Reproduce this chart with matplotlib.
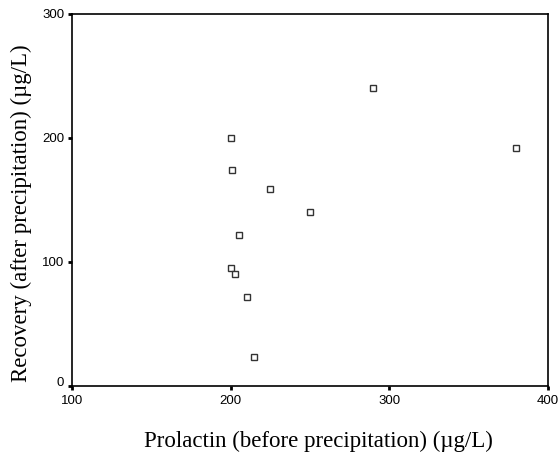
import matplotlib
matplotlib.use("Agg")
import matplotlib.pyplot as plt
from matplotlib.transforms import ScaledTranslation

prolactin_before = [200, 201, 225, 205, 200, 203, 210, 215, 290, 380, 250]
recovery_after = [200, 174, 159, 122, 95, 90, 72, 23, 240, 192, 140]
x_ticks = [100, 200, 300, 400]
y_ticks = [0, 100, 200, 300]

fig = plt.figure(figsize=(5.6, 4.54), dpi=100)
ax = fig.add_axes([72/560, 1 - 386/454, (548-72)/560, (386-14)/454])

ax.plot(prolactin_before, recovery_after, linestyle='none', marker='s',
        markersize=5, markerfacecolor='white', markeredgecolor='#333333',
        markeredgewidth=1.0)

ax.set_xlim(100, 400)
ax.set_ylim(0, 300)
ax.set_xticks(x_ticks)
ax.set_yticks(y_ticks)
ax.tick_params(direction='out', length=3, width=2, labelsize=9.5)
ax.tick_params(axis='x', pad=3.5)
ax.tick_params(axis='y', pad=2.5)
for lab in ax.get_xticklabels() + ax.get_yticklabels():
    lab.set_fontfamily('Liberation Sans')
for s in ax.spines.values():
    s.set_linewidth(1.2)

# the "0" label sits slightly above its tick in the reference
zero_lab = ax.yaxis.get_major_ticks()[0].label1
zero_lab.set_transform(zero_lab.get_transform() + ScaledTranslation(0, 5/100, fig.dpi_scale_trans))

ax.set_xlabel('Prolactin (before precipitation) (µg/L)', fontsize=16.5,
              family='Liberation Serif', va='center', ha='center')
ax.set_ylabel('Recovery (after precipitation) (µg/L)', fontsize=16.5,
              family='Liberation Serif', va='center', ha='center')
ax.xaxis.set_label_coords((318 - 72) / 476, (386 - 441) / 372)
ax.yaxis.set_label_coords((21 - 72) / 476, (386 - 213) / 372)

fig.savefig('out.png', dpi=100)
